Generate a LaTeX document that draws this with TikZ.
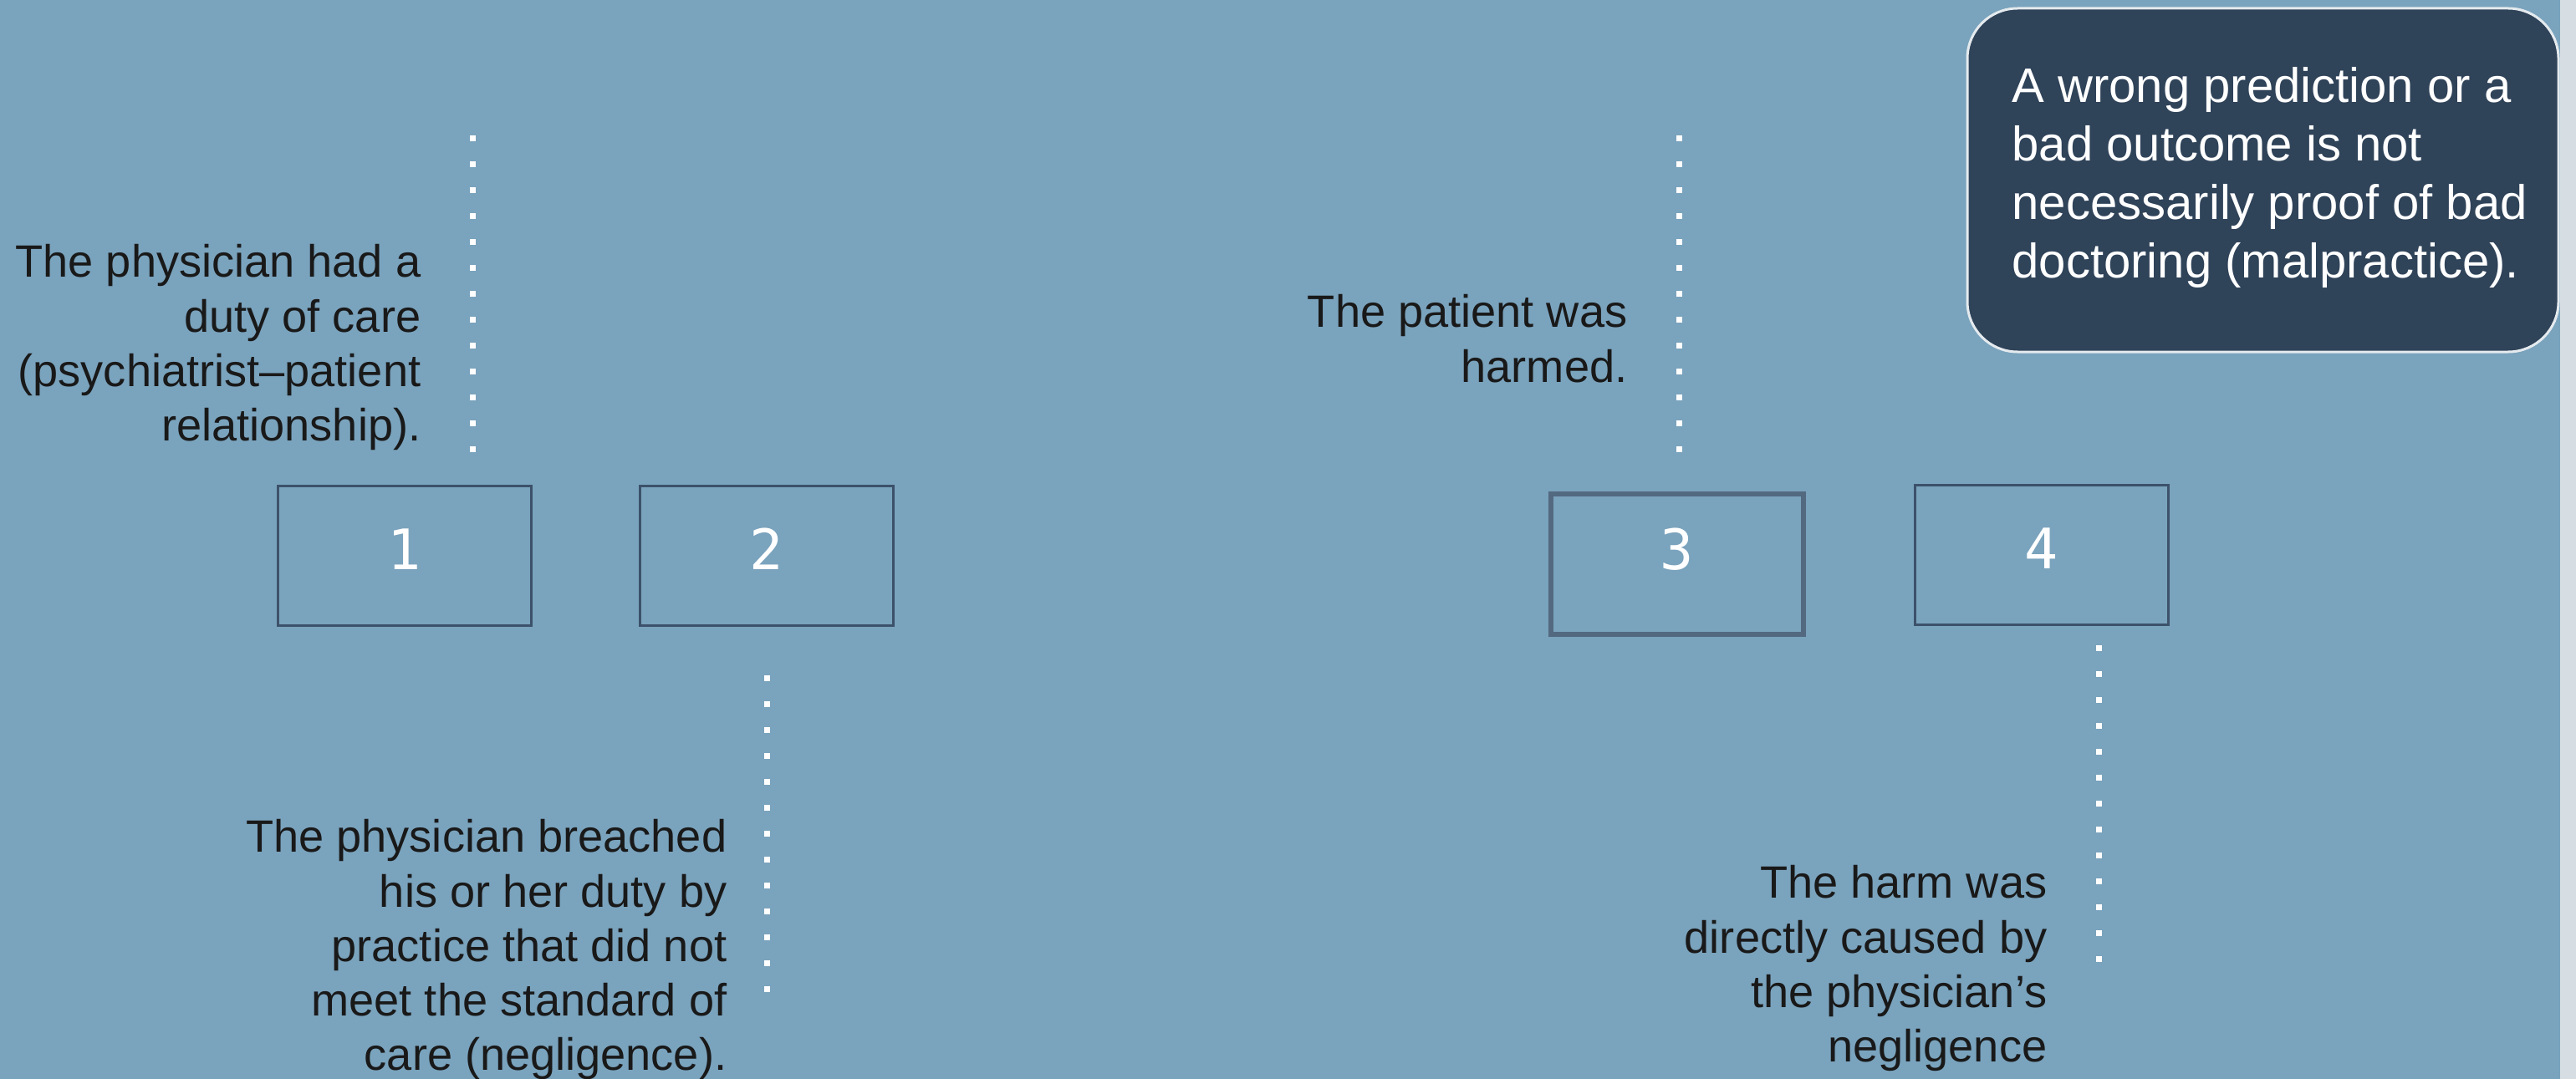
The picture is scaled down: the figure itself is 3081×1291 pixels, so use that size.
\documentclass[tikz,border=0pt]{standalone}
\usepackage{fontspec}
\setmainfont{Liberation Sans}
\newfontfamily\digitfont{DejaVu Sans Mono}
\usetikzlibrary{positioning}
\definecolor{slidebg}{RGB}{122,163,189}
\definecolor{boxline}{RGB}{60,82,106}
\definecolor{boxlinelight}{RGB}{82,105,128}
\definecolor{notefill}{RGB}{47,67,89}
\definecolor{noteedge}{RGB}{228,234,238}
\definecolor{edgestrip}{RGB}{214,222,227}
\tikzset{stepbox/.style = {draw=boxline, line width=0.03cm, minimum width=3.02cm,
                           minimum height=1.67cm, inner sep=0pt, text=white,
                           font=\digitfont\fontsize{19}{19}\selectfont, text depth=0.16cm},
         dotline/.style = {draw=white, line width=0.07cm, dash pattern=on 0.07cm off 0.24cm},
         steptext/.style = {anchor=north east, align=right, inner sep=0pt, text=black!90,
                            font=\fontsize{15.4}{18.5}\selectfont},
         notebox/.style = {draw=noteedge, fill=notefill, line width=0.03cm, rounded corners=0.6cm},
         notetext/.style = {anchor=north west, align=left, inner sep=0pt, text=white,
                            font=\fontsize{16.5}{19.9}\selectfont}}

\begin{document}
\begin{tikzpicture}[x=0.01cm, y=-0.01cm]
      \useasboundingbox (0, 0) rectangle (3081, 1291);
      \fill [slidebg] (0, 0) rectangle (3081, 1291);
      \fill [edgestrip] (3062, 0) rectangle (3081, 1291);

      % the four elements
      \node [stepbox] (duty) at (484, 665) {1};
      \node [stepbox] (breach) at (917, 665) {2};
      \node [stepbox, draw=boxlinelight, line width=0.06cm, text depth=0.36cm] (harm) at (2006, 675) {3};
      \node [stepbox] (cause) at (2442, 664) {4};

      \node [steptext] (dutytext) at (504, 292) {The physician had a\\duty of care\\(psychiatrist–patient\\relationship).};
      \node [steptext] (harmtext) at (1947, 352) {The patient was\\harmed.};
      \node [steptext] (breachtext) at (870, 980) {The physician breached\\his or her duty by\\practice that did not\\meet the standard of\\care (negligence).};
      \node [steptext] (causetext) at (2449, 1035) {The harm was\\directly caused by\\the physician’s\\negligence};

      \coordinate (dutytop) at (565, 162);
      \coordinate (dutybot) at (565, 541);
      \coordinate (breachtop) at (917, 808);
      \coordinate (breachbot) at (917, 1187);
      \coordinate (harmtop) at (2008, 162);
      \coordinate (harmbot) at (2008, 541);
      \coordinate (causetop) at (2510, 772);
      \coordinate (causebot) at (2510, 1151);
      \draw [dotline] (dutytop) -- (dutybot);
      \draw [dotline] (breachtop) -- (breachbot);
      \draw [dotline] (harmtop) -- (harmbot);
      \draw [dotline] (causetop) -- (causebot);

      % the note in the corner
      \draw [notebox] (2353, 10) rectangle (3060, 421);
      \node [notetext] (note) at (2406, 80) {A wrong prediction or a\\bad outcome is not\\necessarily proof of bad\\doctoring (malpractice).};
\end{tikzpicture}
\end{document}
